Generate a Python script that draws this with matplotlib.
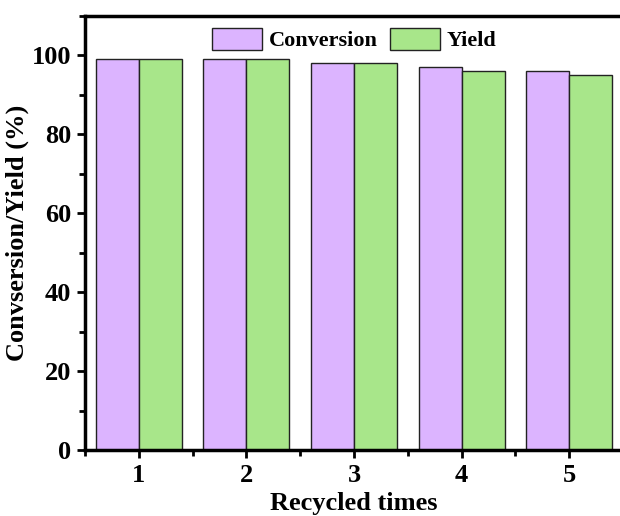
import matplotlib.pyplot as plt
import numpy as np
from matplotlib.ticker import MultipleLocator

plt.rcParams['font.family'] = ['Liberation Serif', 'DejaVu Serif']
plt.rcParams['font.weight'] = 'bold'

cycles = [1, 2, 3, 4, 5]
conversion = [99, 99, 98, 97, 96]
yield_pct = [99, 99, 98, 96, 95]

conv_color = '#DCB4FF'
yield_color = '#A8E68A'

fig = plt.figure(figsize=(6.2, 5.16), dpi=100)
ax = fig.add_axes([85 / 620, 66 / 516, 538 / 620, 434 / 516])

x = np.array(cycles)
w = 0.4
ax.bar(x - w / 2, conversion, width=w, color=conv_color, edgecolor='#222222',
       linewidth=1.0, label='Conversion')
ax.bar(x + w / 2, yield_pct, width=w, color=yield_color, edgecolor='#222222',
       linewidth=1.0, label='Yield')

ax.set_xlim(0.5, 5.5)
ax.set_ylim(0, 110)
ax.set_xticks(cycles)
ax.yaxis.set_major_locator(MultipleLocator(20))
ax.yaxis.set_minor_locator(MultipleLocator(10))
ax.xaxis.set_minor_locator(MultipleLocator(0.5))

for s in ax.spines.values():
    s.set_linewidth(2.5)

ax.tick_params(which='major', direction='out', length=6, width=2, labelsize=19, pad=4)
ax.tick_params(which='minor', direction='out', length=4, width=2)
ax.tick_params(top=False, right=False, which='both')

ax.set_xlabel('Recycled times', fontsize=19, fontweight='bold', labelpad=4)
ax.set_ylabel('Convsersion/Yield (%)', fontsize=19, fontweight='bold', labelpad=2)

ax.legend(loc='upper center', ncol=2, frameon=False, fontsize=16,
          handlelength=2.25, handleheight=1.1, handletextpad=0.3,
          columnspacing=0.55, borderaxespad=0.15)

fig.savefig('out.png', dpi=100)
